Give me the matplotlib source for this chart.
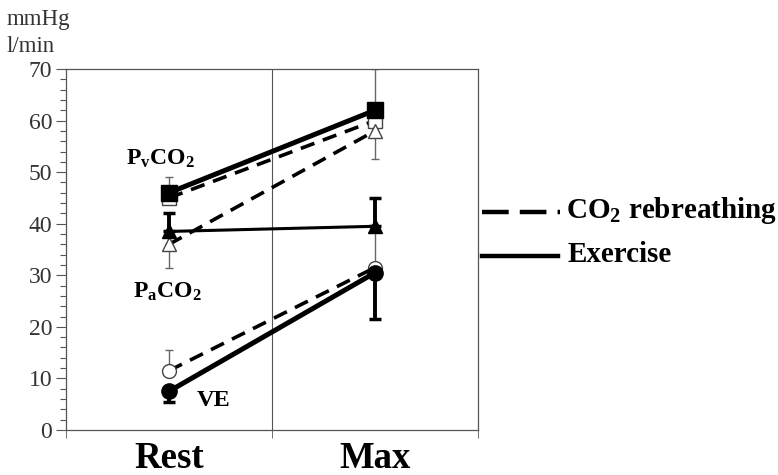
import matplotlib
matplotlib.use('Agg')
import matplotlib.pyplot as plt
from matplotlib.lines import Line2D
from matplotlib.ticker import MultipleLocator

plt.rcParams['font.family'] = ['Liberation Serif', 'DejaVu Serif']
plt.rcParams['mathtext.fontset'] = 'custom'
plt.rcParams['mathtext.rm'] = 'Liberation Serif:bold'
plt.rcParams['mathtext.it'] = 'Liberation Serif:bold'
plt.rcParams['mathtext.bf'] = 'Liberation Serif:bold'

conditions = ['Rest', 'Max']
pv_ex = [46, 62]
pv_rb = [45, 60]
pa_ex = [38.5, 39.5]
pa_rb = [36, 58]
ve_ex = [7.5, 30.5]
ve_rb = [11.5, 31.5]

# asymmetric error bars: [lower], [upper]
pv_rb_err = [[0, 0], [4, 10]]
pa_rb_err = [[4.5, 5.5], [0, 0]]
ve_rb_err = [[0, 0], [4, 7.5]]
pa_ex_err = [[0, 0], [3.5, 5.5]]
ve_ex_err = [[2, 9], [0, 0]]

xpos = [0.5, 1.5]

fig = plt.figure(figsize=(7.78, 4.75), dpi=100)
ax = fig.add_axes([66/778, 1-430/475, (478-66)/778, (430-69)/475])
ax.set_xlim(0, 2)
ax.set_ylim(0, 70)
ax.axvline(1, color='#555555', lw=0.8, zorder=1)

thin = dict(fmt='none', ecolor='#666666', elinewidth=1.0, capsize=3, capthick=1.0, zorder=2)
thick = dict(fmt='none', ecolor='black', elinewidth=2.8, capsize=4, capthick=2.5, zorder=2)
ax.errorbar(xpos, pv_rb, yerr=pv_rb_err, **thin)
ax.errorbar(xpos, pa_rb, yerr=pa_rb_err, **thin)
ax.errorbar(xpos, ve_rb, yerr=ve_rb_err, **thin)
ax.errorbar(xpos, pa_ex, yerr=pa_ex_err, **thick)
ax.errorbar(xpos, ve_ex, yerr=ve_ex_err, **thick)

dash = dict(color='black', lw=2.6, ls=(0, (4, 2.5)), zorder=3)
ax.plot(xpos, pv_rb, marker='s', ms=10, mfc='white', mec='#444444', mew=1.0, **dash)
ax.plot(xpos, pa_rb, marker='^', ms=10, mfc='white', mec='#444444', mew=1.0, **dash)
ax.plot(xpos, ve_rb, marker='o', ms=10, mfc='white', mec='#444444', mew=1.0, **dash)

ax.plot(xpos, pv_ex, color='black', lw=3.6, marker='s', ms=11.5, mfc='black', mec='black', zorder=4)
ax.plot(xpos, pa_ex, color='black', lw=2.2, marker='^', ms=10, mfc='black', mec='black', zorder=4)
ax.plot(xpos, ve_ex, color='black', lw=3.6, marker='o', ms=11, mfc='black', mec='black', zorder=4)

ax.set_xticks(xpos)
ax.set_xticklabels(conditions, fontsize=26.5, fontweight='bold')
ax.xaxis.set_minor_locator(MultipleLocator(1))
ax.tick_params(axis='x', which='major', length=0, pad=8)
ax.tick_params(axis='x', which='minor', length=6, direction='out', color='#555555')
ax.yaxis.set_major_locator(MultipleLocator(10))
ax.yaxis.set_minor_locator(MultipleLocator(2))
ax.tick_params(axis='y', which='major', length=7, width=0.8, color='#555555', labelsize=17, labelcolor='#333333', pad=3)
ax.tick_params(axis='y', which='minor', length=4, width=0.8, color='#555555')
for s in ax.spines.values():
    s.set_color('#555555')
    s.set_linewidth(0.9)

ax.text(0.456, 52.5, r'P$_{\mathrm{v}}$CO$_{2}$', fontsize=17, fontweight='bold', ha='center', va='center')
ax.text(0.49, 26.8, r'P$_{\mathrm{a}}$CO$_{2}$', fontsize=17, fontweight='bold', ha='center', va='center')
ax.text(0.715, 5.8, 'VE', fontsize=17.5, fontweight='bold', ha='center', va='center')

fig.text(7/778, 1-20/475, 'mmHg', fontsize=16.5, color='#333333', va='center')
fig.text(7/778, 1-46/475, 'l/min', fontsize=16.5, color='#333333', va='center')

fig.add_artist(Line2D([482/778, 560/778], [1-212/475, 1-212/475], color='black', lw=3.2,
                      ls=(0, (6, 2.5))))
fig.add_artist(Line2D([482/778, 558/778], [1-256/475, 1-256/475], color='black', lw=3.2))
fig.text(566/778, 1-210/475, r'CO$_{2}$ rebreathing', fontsize=21, fontweight='bold', va='center')
fig.text(568/778, 1-254/475, 'Exercise', fontsize=21, fontweight='bold', va='center')

fig.savefig('out.png', dpi=100)
